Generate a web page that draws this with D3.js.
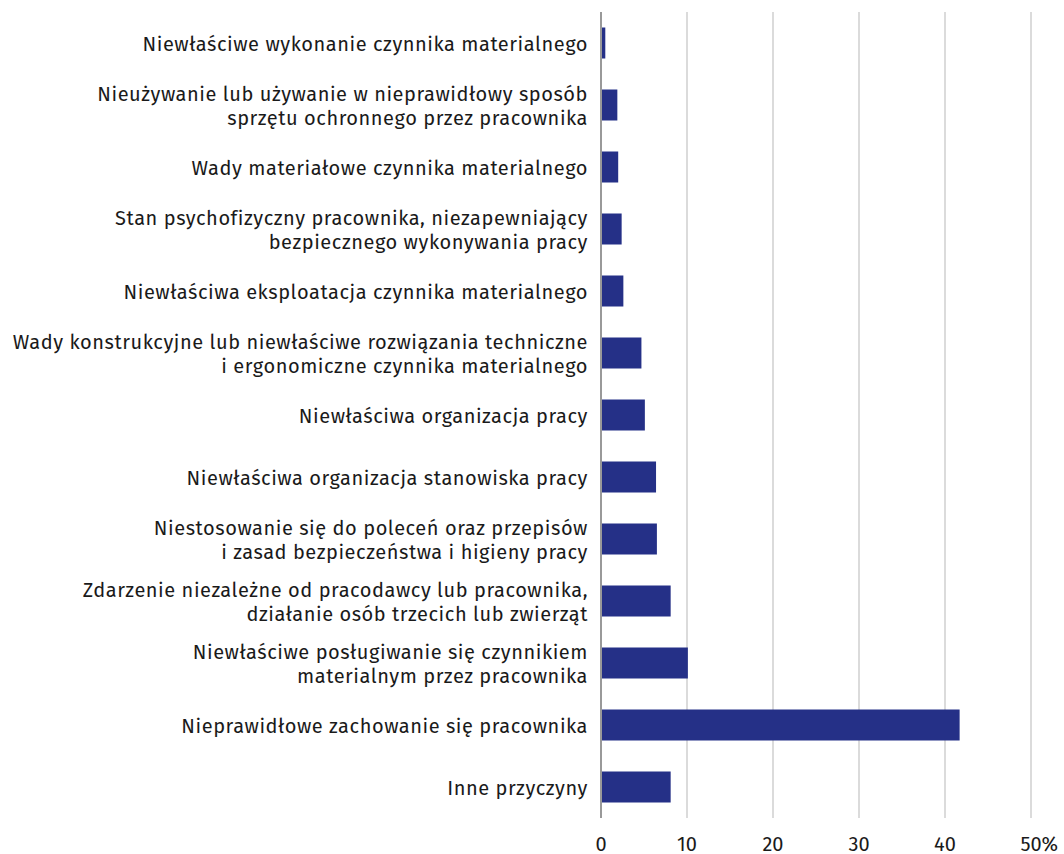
<!DOCTYPE html>
<html>
<head>
<meta charset="utf-8">
<script src="https://cdn.jsdelivr.net/npm/d3@7"></script>
<style>
  body { margin: 0; background: #fff; }
  text { font-family: "Fira Sans", "Noto Sans", sans-serif; fill: #1a1a1a; }
</style>
</head>
<body>
<svg class="chart"></svg>
<script>

var categories = [
  ["Niewłaściwe wykonanie czynnika materialnego"],
  ["Nieużywanie lub używanie w nieprawidłowy sposób", "sprzętu ochronnego przez pracownika"],
  ["Wady materiałowe czynnika materialnego"],
  ["Stan psychofizyczny pracownika, niezapewniający", "bezpiecznego wykonywania pracy"],
  ["Niewłaściwa eksploatacja czynnika materialnego"],
  ["Wady konstrukcyjne lub niewłaściwe rozwiązania techniczne", "i ergonomiczne czynnika materialnego"],
  ["Niewłaściwa organizacja pracy"],
  ["Niewłaściwa organizacja stanowiska pracy"],
  ["Niestosowanie się do poleceń oraz przepisów", "i zasad bezpieczeństwa i higieny pracy"],
  ["Zdarzenie niezależne od pracodawcy lub pracownika,", "działanie osób trzecich lub zwierząt"],
  ["Niewłaściwe posługiwanie się czynnikiem", "materialnym przez pracownika"],
  ["Nieprawidłowe zachowanie się pracownika"],
  ["Inne przyczyny"]
];
var values = [0.5, 1.9, 2.0, 2.4, 2.6, 4.7, 5.1, 6.4, 6.5, 8.1, 10.1, 41.7, 8.1];
var ticks = [0, 10, 20, 30, 40, 50];

var width = 1064,
    height = 854;

var x = d3.scaleLinear().domain([0, 50]).range([601, 1031]),
    y = d3.scaleBand().domain(d3.range(categories.length)).range([12, 818]).paddingInner(0.5).paddingOuter(0.25);

var chart = d3.select(".chart")
    .attr("width", width)
    .attr("height", height);

// gridlines
chart.selectAll(".grid")
    .data(ticks.slice(1))
  .enter().append("line")
    .attr("class", "grid")
    .attr("x1", function(d) { return x(d); })
    .attr("x2", function(d) { return x(d); })
    .attr("y1", 12)
    .attr("y2", 818)
    .style("stroke", "#cfcfcf")
    .style("stroke-width", 1.5);

chart.selectAll(".bar")
    .data(values)
  .enter().append("rect")
    .attr("class", "bar")
    .attr("x", x(0))
    .attr("y", function(d, i) { return y(i); })
    .attr("width", function(d) { return x(d) - x(0); })
    .attr("height", y.bandwidth())
    .style("fill", "#253087");

// zero axis line
chart.append("line")
    .attr("x1", x(0)).attr("x2", x(0))
    .attr("y1", 12).attr("y2", 818)
    .style("stroke", "#999")
    .style("stroke-width", 2);

// category labels
var lineH = 24;
chart.selectAll(".cat")
    .data(categories)
  .enter().append("text")
    .attr("class", "cat")
    .attr("text-anchor", "end")
    .style("font-size", "20px")
    .style("letter-spacing", "0.55px")
    .each(function(lines, i) {
      var cy = y(i) + y.bandwidth() / 2;
      var t = d3.select(this);
      lines.forEach(function(l, j) {
        t.append("tspan")
          .attr("x", 588)
          .attr("y", cy + (j - (lines.length - 1) / 2) * lineH + 8)
          .text(l);
      });
    });

// tick labels
chart.selectAll(".tick")
    .data(ticks)
  .enter().append("text")
    .attr("class", "tick")
    .attr("x", function(d) { return x(d); })
    .attr("y", 851)
    .attr("text-anchor", "middle")
    .style("font-size", "20px")
    .text(function(d) { return d; })
    .each(function(d, i) {
      if (i === ticks.length - 1) {
        var w = this.getComputedTextLength();
        chart.append("text")
          .attr("x", x(d) + w / 2)
          .attr("y", 851)
          .style("font-size", "20px")
          .text("%");
      }
    });

</script>
</body>
</html>
